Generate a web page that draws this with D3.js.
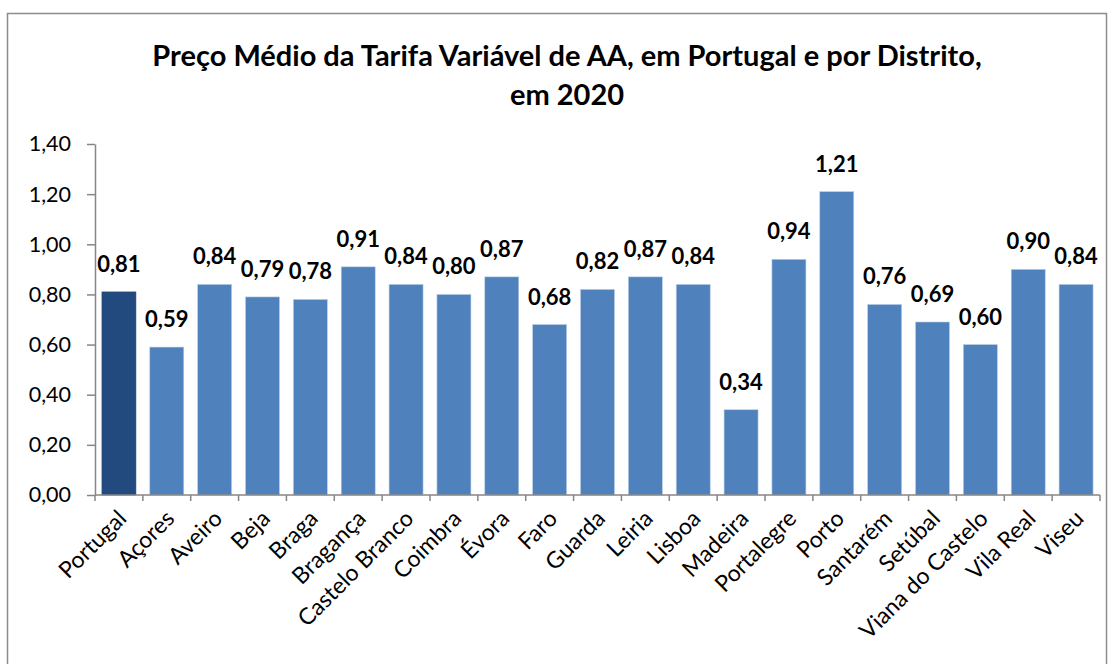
<!DOCTYPE html>
<html>
<head>
<meta charset="utf-8">
<script src="https://cdn.jsdelivr.net/npm/d3@7"></script>
<style>
  body { margin: 0; background: #fff; }
  text { font-family: Lato, "Open Sans", sans-serif; }
</style>
</head>
<body>
<svg id="chart" width="1118" height="664"></svg>
<script>
// districts + national average
const categories = ['Portugal', 'Açores', 'Aveiro', 'Beja', 'Braga', 'Bragança', 'Castelo Branco',
  'Coimbra', 'Évora', 'Faro', 'Guarda', 'Leiria', 'Lisboa', 'Madeira', 'Portalegre', 'Porto',
  'Santarém', 'Setúbal', 'Viana do Castelo', 'Vila Real', 'Viseu'];
const prices = [0.81, 0.59, 0.84, 0.79, 0.78, 0.91, 0.84, 0.80, 0.87, 0.68, 0.82, 0.87, 0.84,
  0.34, 0.94, 1.21, 0.76, 0.69, 0.60, 0.90, 0.84];
const yTicks = [0, 0.2, 0.4, 0.6, 0.8, 1.0, 1.2, 1.4];
const titleLines = ['Preço Médio da Tarifa Variável de AA, em Portugal e por Distrito,', 'em 2020'];

const svg = d3.select('#chart');
const fmt = v => d3.format('.2f')(v).replace('.', ',');

// outer frame
svg.append('rect')
  .attr('x', 7.5).attr('y', 13.5)
  .attr('width', 1099).attr('height', 700)
  .attr('fill', 'none').attr('stroke', '#8c8c8c').attr('stroke-width', 1.5);

svg.selectAll('.title')
  .data(titleLines)
  .enter()
  .append('text')
  .attr('x', 567)
  .attr('y', (d, i) => 66 + i * 39)
  .attr('text-anchor', 'middle')
  .attr('font-size', 29)
  .attr('font-weight', 'bold')
  .text(d => d);

const plotL = 95, plotR = 1100, plotT = 144, plotB = 495;

const x = d3.scaleBand()
  .domain(categories)
  .range([plotL, plotR])
  .paddingInner(0.29)
  .paddingOuter(0.145);

const y = d3.scaleLinear().domain([0, 1.4]).range([plotB, plotT]);

// bars
svg.selectAll('.bar')
  .data(prices)
  .enter()
  .append('rect')
  .attr('x', (d, i) => x(categories[i]))
  .attr('y', d => y(d))
  .attr('width', x.bandwidth())
  .attr('height', d => y(0) - y(d))
  .attr('fill', (d, i) => i === 0 ? '#224a7e' : '#4f81bd')
  .attr('stroke', (d, i) => i === 0 ? '#224a7e' : '#b9cde5')
  .attr('stroke-width', 0.6);

// value labels
svg.selectAll('.val')
  .data(prices)
  .enter()
  .append('text')
  .attr('x', (d, i) => x(categories[i]) + x.bandwidth() / 2)
  .attr('y', d => y(d) - 20)
  .attr('text-anchor', 'middle')
  .attr('font-size', 22)
  .attr('font-weight', 'bold')
  .text(d => fmt(d));

// y axis
const yAxis = svg.append('g')
  .attr('transform', `translate(${plotL},0)`)
  .call(d3.axisLeft(y).tickValues(yTicks).tickSize(8).tickSizeOuter(0).tickPadding(16).tickFormat(fmt));
yAxis.selectAll('text').attr('font-size', 21.5).attr('fill', '#000').style('font-family', 'Lato, sans-serif');
yAxis.select('.domain').attr('stroke', '#868686').attr('stroke-width', 1.5);
yAxis.selectAll('.tick line').attr('stroke', '#868686').attr('stroke-width', 1.5);

// x axis: ticks on band boundaries
const xAxis = svg.append('g').attr('transform', `translate(0,${plotB})`);
xAxis.append('line')
  .attr('x1', plotL).attr('x2', plotR)
  .attr('stroke', '#868686').attr('stroke-width', 1.5);
xAxis.selectAll('.tick')
  .data(d3.range(categories.length + 1))
  .enter()
  .append('line')
  .attr('x1', i => plotL + i * x.step()).attr('x2', i => plotL + i * x.step())
  .attr('y1', 0).attr('y2', 6)
  .attr('stroke', '#868686').attr('stroke-width', 1.5);
xAxis.selectAll('.lab')
  .data(categories)
  .enter()
  .append('text')
  .attr('transform', d => `translate(${x(d) + x.bandwidth() / 2 + 9},${25}) rotate(-45)`)
  .attr('text-anchor', 'end')
  .attr('font-size', 23)
  .text(d => d);
</script>
</body>
</html>
